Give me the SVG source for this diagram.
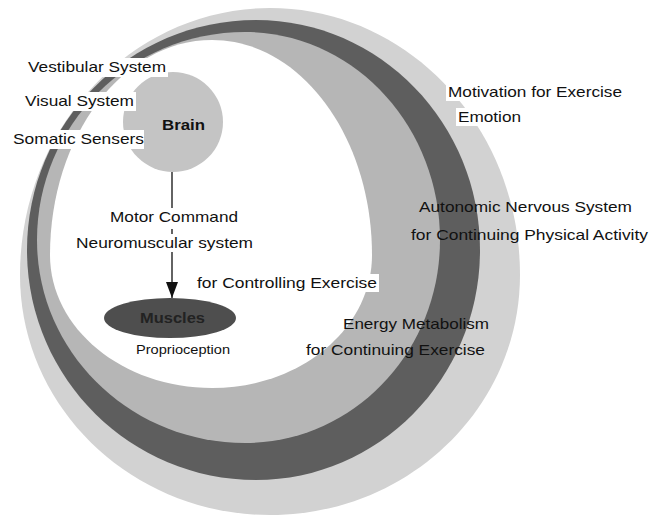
<svg xmlns="http://www.w3.org/2000/svg" width="663" height="518" viewBox="0 0 663 518">
<defs>
<style>
text{font-family:"Liberation Sans",Arial,sans-serif;font-size:15px;fill:#111}
.b{font-weight:bold}
.s{font-size:12px}
.box{fill:#fff}
.ln{stroke:#111;stroke-width:1.3;fill:none}
</style>
<marker id="ah" viewBox="0 0 16 12" refX="16" refY="6" markerWidth="16" markerHeight="12" markerUnits="userSpaceOnUse" orient="auto">
<path d="M0,0 L16,6 L0,12 Z" fill="#111"/>
</marker>
</defs>
<rect width="663" height="518" fill="#fff"/>
<g id="rings">
<path id="ring-light" fill="#d2d2d2" d="M520,275 C520,407.6 408.1,515 270,515 C131.9,515 20,407.6 20,275 C20,127.5 131.9,8 270,8 C408.1,8 520,127.5 520,275 Z"/>
<path id="ring-dark" fill="#5e5e5e" d="M480,250 C480,377 379.7,480 256,480 C129.5,480 27,377 27,250 C27,123 129.5,20 256,20 C379.7,20 480,123 480,250 Z"/>
<path id="ring-medium" fill="#b6b6b6" d="M440,240 C440,352.1 352.7,443 245,443 C130.1,443 37,352.1 37,240 C37,125.1 130.1,32 245,32 C352.7,32 440,125.1 440,240 Z"/>
<path id="ring-inner" fill="#fff" d="M372,255 C372,328.5 300.4,388 212,388 C122.5,388 50,328.5 50,255 C50,136.3 122.5,40 212,40 C300.4,40 372,136.3 372,255 Z"/>
</g>
<g id="brain">
<circle cx="173" cy="122" r="50" fill="#c4c4c4"/>
<text class="b" x="162" y="130" textLength="43" lengthAdjust="spacingAndGlyphs">Brain</text>
</g>
<g id="sensors">
<rect class="box" x="26" y="58" width="142" height="19"/>
<rect class="box" x="23" y="92" width="113" height="19"/>
<rect class="box" x="11" y="130" width="133" height="19"/>
<text x="28" y="72" textLength="138" lengthAdjust="spacingAndGlyphs">Vestibular System</text>
<text x="25" y="106" textLength="109" lengthAdjust="spacingAndGlyphs">Visual System</text>
<text x="13" y="144" textLength="131" lengthAdjust="spacingAndGlyphs">Somatic Sensers</text>
</g>
<g id="connectors">
<path class="ln" d="M172,172 V208 M172,229 V234 M172,252 V298" marker-end="url(#ah)"/>
</g>
<g id="motor-labels">
<text x="110" y="222" textLength="128" lengthAdjust="spacingAndGlyphs">Motor Command</text>
<text x="76" y="248" textLength="177" lengthAdjust="spacingAndGlyphs">Neuromuscular system</text>
<rect class="box" x="195" y="274" width="184" height="18"/>
<text x="197" y="288" textLength="180" lengthAdjust="spacingAndGlyphs">for Controlling Exercise</text>
</g>
<g id="muscles">
<ellipse cx="170" cy="318" rx="66" ry="20" fill="#4e4e4e"/>
<text class="b" x="140" y="323" textLength="65" lengthAdjust="spacingAndGlyphs" style="fill:#222">Muscles</text>
<text class="s" x="136" y="354" textLength="94" lengthAdjust="spacingAndGlyphs">Proprioception</text>
</g>
<g id="energy">
<text x="343" y="329" textLength="146" lengthAdjust="spacingAndGlyphs">Energy Metabolism</text>
<text x="306" y="355" textLength="179" lengthAdjust="spacingAndGlyphs">for Continuing Exercise</text>
</g>
<g id="motivation">
<rect class="box" x="446" y="83" width="180" height="18"/>
<rect class="box" x="456" y="108" width="68" height="18"/>
<text x="448" y="97" textLength="174" lengthAdjust="spacingAndGlyphs">Motivation for Exercise</text>
<text x="458" y="122" textLength="63" lengthAdjust="spacingAndGlyphs">Emotion</text>
</g>
<g id="autonomic">
<text x="419" y="212" textLength="213" lengthAdjust="spacingAndGlyphs">Autonomic Nervous System</text>
<text x="411" y="240" textLength="237" lengthAdjust="spacingAndGlyphs">for Continuing Physical Activity</text>
</g>
</svg>
